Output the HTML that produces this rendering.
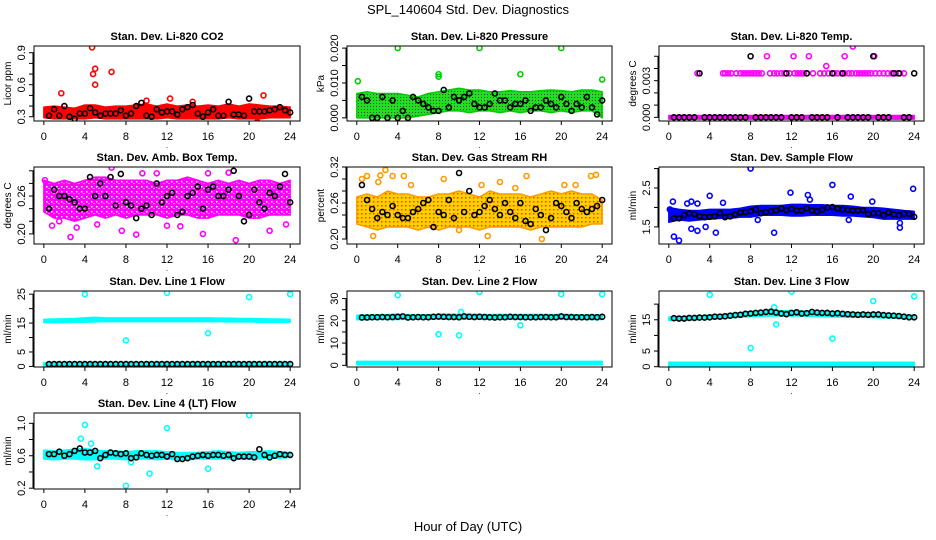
<!DOCTYPE html>
<html><head><meta charset="utf-8"><style>
html,body{margin:0;padding:0;background:#fff;}
svg{display:block;font-family:"Liberation Sans",Arial,sans-serif;}
</style></head><body>
<svg id="chart" width="936" height="540" viewBox="0 0 936 540" xmlns="http://www.w3.org/2000/svg">
<defs>
<pattern id="pGreen" width="3" height="3" patternUnits="userSpaceOnUse"><rect width="3" height="3" fill="#22dd22"/><rect x="1" y="1" width="1" height="1" fill="#115511"/></pattern>
<pattern id="pOrange" width="4" height="4" patternUnits="userSpaceOnUse"><rect width="4" height="4" fill="#ffd000"/><rect x="1" y="1" width="1.5" height="1.5" fill="#ee4400"/></pattern>
<pattern id="pPink" width="5" height="5" patternUnits="userSpaceOnUse"><rect width="5" height="5" fill="#ff00ff"/><rect x="1" y="1" width="1.5" height="1.5" fill="#ffffff"/><rect x="3.5" y="3" width="1" height="1" fill="#ffffff"/></pattern>
</defs>
<text x="468" y="14" font-size="13" text-anchor="middle">SPL_140604  Std. Dev. Diagnostics</text>
<text x="468" y="531" font-size="13" text-anchor="middle">Hour of Day (UTC)</text>
</svg>
<script>
const HX=[0.5,1,1.5,2,2.5,3,3.5,4,4.5,5,5.5,6,6.5,7,7.5,8,8.5,9,9.5,10,10.5,11,11.5,12,12.5,13,13.5,14,14.5,15,15.5,16,16.5,17,17.5,18,18.5,19,19.5,20,20.5,21,21.5,22,22.5,23,23.5,24];
const BH=[0,1,2,3,4,5,6,7,8,9,10,11,12,13,14,15,16,17,18,19,20,21,22,23,24];

// Panel 1 CO2
const co2Black=[0.31,0.37,0.31,0.40,0.30,0.28,0.33,0.33,0.38,0.34,0.31,0.33,0.33,0.33,0.36,0.31,0.33,0.40,0.43,0.31,0.30,0.37,0.34,0.35,0.35,0.32,0.37,0.39,0.41,0.33,0.30,0.34,0.37,0.31,0.31,0.44,0.32,0.32,0.31,0.47,0.35,0.35,0.35,0.36,0.37,0.39,0.36,0.34];
const co2Lo=[0.29,0.28,0.28,0.28,0.28,0.29,0.28,0.28,0.28,0.28,0.28,0.28,0.29,0.28,0.28,0.28,0.28,0.28,0.29,0.28,0.28,0.28,0.29,0.29,0.29];
const co2Hi=[0.39,0.40,0.39,0.38,0.41,0.41,0.39,0.40,0.40,0.41,0.42,0.40,0.42,0.40,0.41,0.40,0.41,0.40,0.42,0.40,0.42,0.41,0.40,0.40,0.39];
const co2OutX=[4.7,5.0,4.8,5.0,1.7,6.6,21.4,20.8,12.3,10.0,14.5];
const co2OutY=[0.95,0.75,0.70,0.60,0.52,0.72,0.50,0.25,0.47,0.45,0.44];
// Panel 2 pressure
const prBlack=[0.006,0.005,0.0,0.0,0.006,0.0,0.005,0.0,0.002,0.0,0.006,0.005,0.004,0.003,0.002,0.002,0.008,0.003,0.006,0.005,0.006,0.007,0.004,0.003,0.003,0.004,0.007,0.005,0.005,0.003,0.004,0.004,0.005,0.002,0.003,0.003,0.005,0.004,0.003,0.006,0.004,0.002,0.004,0.003,0.006,0.003,0.001,0.005];
const prLo=[0.0,0.0,0.0,0.0,0.0,0.0,0.0005,0.001,0.0015,0.002,0.002,0.0015,0.002,0.002,0.0015,0.002,0.0015,0.002,0.002,0.0015,0.002,0.0015,0.002,0.002,0.0];
const prHi=[0.007,0.0075,0.007,0.007,0.007,0.0065,0.006,0.007,0.0075,0.008,0.0085,0.008,0.008,0.0075,0.0075,0.0078,0.0075,0.0075,0.0078,0.008,0.0078,0.0075,0.008,0.008,0.0075];
const prOutX=[0.1,4.0,8.0,8.0,12.0,16.0,20.0,24.0];
const prOutY=[0.0105,0.0200,0.0125,0.0118,0.0200,0.0125,0.0200,0.0110];
// Panel 3 Li-820 temp
const ltBlack=[0,0,0,0,0,0.0036,0,0,0,0,0,0,0,0,0,0.005,0,0,0,0,0,0,0.0036,0,0,0,0.0036,0,0,0,0,0.0036,0,0.0036,0,0,0,0,0,0.005,0,0,0,0.0036,0.0036,0,0,0.0036];
const ltLo=[-0.00015,-0.00015,-0.00015,-0.00015,-0.00015,-0.00015,-0.00015,-0.00015,-0.00015,-0.00015,-0.00015,-0.00015,-0.00015,-0.00015,-0.00015,-0.00015,-0.00015,-0.00015,-0.00015,-0.00015,-0.00015,-0.00015,-0.00015,-0.00015,-0.00015];
const ltHi=[0.00015,0.00015,0.00015,0.00015,0.00015,0.00015,0.00015,0.00015,0.00015,0.00015,0.00015,0.00015,0.00015,0.00015,0.00015,0.00015,0.00015,0.00015,0.00015,0.00015,0.00015,0.00015,0.00015,0.00015,0.00015];
const ltOutX=[2.8,5.3,5.5,5.8,6.1,6.6,7,7.3,7.6,7.9,8.2,8.5,8.8,9.1,9.9,10.3,10.6,11,11.3,11.8,12.3,12.6,12.9,13.2,13.5,14.1,14.8,15.2,15.6,16.2,16.5,16.9,17.2,17.6,17.9,18.3,18.6,18.9,19.2,19.5,19.8,20.2,20.6,21,21.4,21.8,22.2,22.6,23,9.6,12.2,13.7,15.4,17.2,18,20.1];
const ltOutY=[0.0036,0.0036,0.0036,0.0036,0.0036,0.0036,0.0036,0.0036,0.0036,0.0036,0.0036,0.0036,0.0036,0.0036,0.0036,0.0036,0.0036,0.0036,0.0036,0.0036,0.0036,0.0036,0.0036,0.0036,0.0036,0.0036,0.0036,0.0036,0.0036,0.0036,0.0036,0.0036,0.0036,0.0036,0.0036,0.0036,0.0036,0.0036,0.0036,0.0036,0.0036,0.0036,0.0036,0.0036,0.0036,0.0036,0.0036,0.0036,0.0036,0.005,0.005,0.005,0.0042,0.005,0.0058,0.005];
// Panel 4 amb box temp
const abBlack=[0.24,0.27,0.26,0.26,0.255,0.25,0.24,0.24,0.29,0.26,0.28,0.26,0.29,0.245,0.295,0.25,0.245,0.225,0.24,0.245,0.23,0.28,0.25,0.26,0.265,0.23,0.235,0.26,0.265,0.275,0.24,0.27,0.275,0.26,0.26,0.27,0.30,0.26,0.22,0.23,0.27,0.25,0.24,0.265,0.26,0.275,0.295,0.25];
const abLo=[0.235,0.225,0.225,0.22,0.225,0.23,0.225,0.23,0.225,0.23,0.23,0.23,0.225,0.23,0.23,0.225,0.225,0.23,0.23,0.23,0.225,0.225,0.23,0.23,0.23];
const abHi=[0.285,0.28,0.285,0.28,0.285,0.29,0.29,0.285,0.285,0.285,0.285,0.28,0.285,0.285,0.29,0.285,0.28,0.285,0.28,0.285,0.28,0.285,0.285,0.28,0.285];
const abOutX=[2.6,9.0,7.6,15.5,18.7,22.0,0.8,6.6,18.0,16.0,11.0,9.6,12.0,23.6,0.1,1.5,3.2,5.2,13.3];
const abOutY=[0.195,0.199,0.205,0.20,0.19,0.205,0.213,0.305,0.297,0.296,0.296,0.296,0.213,0.215,0.285,0.22,0.21,0.215,0.212];
// Panel 5 RH
const rhBlack=[0.29,0.265,0.25,0.235,0.245,0.24,0.255,0.24,0.235,0.235,0.245,0.25,0.26,0.265,0.22,0.245,0.24,0.265,0.235,0.31,0.245,0.28,0.24,0.245,0.255,0.265,0.25,0.24,0.26,0.245,0.235,0.26,0.23,0.225,0.25,0.24,0.215,0.235,0.26,0.255,0.245,0.235,0.26,0.25,0.245,0.25,0.255,0.265];
const rhLo=[0.225,0.22,0.215,0.22,0.22,0.22,0.215,0.22,0.215,0.22,0.22,0.22,0.215,0.22,0.22,0.22,0.22,0.215,0.22,0.22,0.22,0.22,0.22,0.225,0.225];
const rhHi=[0.27,0.275,0.27,0.28,0.275,0.275,0.27,0.27,0.275,0.275,0.28,0.275,0.27,0.28,0.275,0.275,0.275,0.27,0.275,0.28,0.275,0.28,0.275,0.275,0.265];
const rhOutX=[0.5,1.0,2.1,2.3,2.8,3.5,4.6,5.3,8.5,12.2,14.0,15.5,16.6,20.3,21.4,22.9,23.4,18.1,12.8,1.6,10.0];
const rhOutY=[0.30,0.305,0.295,0.306,0.315,0.305,0.305,0.29,0.30,0.29,0.295,0.285,0.305,0.29,0.29,0.305,0.307,0.20,0.205,0.205,0.215];
// Panel 6 sample flow
const sfBlack=[1.72,1.72,1.8,1.85,1.83,1.77,1.75,1.76,1.77,1.85,1.75,1.77,1.82,1.87,1.88,1.9,1.95,1.85,1.88,1.9,1.92,1.97,1.93,1.96,1.92,1.92,1.98,1.92,1.90,1.94,2.0,2.01,1.97,1.95,1.94,1.92,1.92,1.93,1.83,1.85,1.85,1.80,1.87,1.82,1.80,1.84,1.84,1.76];
const sfLo=[1.62,1.68,1.65,1.68,1.7,1.72,1.72,1.75,1.75,1.8,1.8,1.8,1.78,1.78,1.8,1.8,1.8,1.78,1.78,1.76,1.74,1.7,1.7,1.7,1.7];
const sfHi=[2.0,1.95,1.92,1.92,1.95,1.95,1.95,1.98,2.03,2.05,2.05,2.05,2.08,2.08,2.07,2.07,2.05,2.05,2.03,2.0,2.0,1.98,1.95,1.92,1.9];
const sfOutX=[0.4,0.5,1.0,1.8,2.2,2.2,2.8,2.8,3.6,4.0,4.6,5.3,8.0,8.7,10.3,11.9,13.6,13.8,16.0,17.6,17.8,19.9,22.6,22.6,23.9,0.1];
const sfOutY=[2.15,1.25,1.15,2.1,2.15,1.45,2.1,1.4,1.5,2.3,1.35,2.12,3.0,1.68,1.35,2.38,2.32,2.2,2.58,1.68,2.28,2.15,1.6,1.48,2.48,1.95];
// Panel 7 line 1
const l1Black=[0.8,0.8,0.8,0.8,0.8,0.8,0.8,0.8,0.8,0.8,0.8,0.8,0.8,0.8,0.8,0.8,0.8,0.8,0.8,0.8,0.8,0.8,0.8,0.8,0.8,0.8,0.8,0.8,0.8,0.8,0.8,0.8,0.8,0.8,0.8,0.8,0.8,0.8,0.8,0.8,0.8,0.8,0.8,0.8,0.8,0.8,0.8,0.8];
const l1LoA=[15.2,15.1,15.2,15.3,15.3,15.4,15.5,15.5,15.5,15.5,15.5,15.5,15.5,15.5,15.5,15.5,15.5,15.5,15.4,15.4,15.4,15.3,15.3,15.3,15.3];
const l1HiA=[16.3,16.4,16.5,16.6,16.8,17.0,16.8,16.8,16.8,16.8,16.8,16.8,16.8,16.8,16.8,16.8,16.8,16.7,16.7,16.6,16.6,16.5,16.4,16.4,16.3];
const l1LoB=[0.2,0.2,0.2,0.2,0.2,0.2,0.2,0.2,0.2,0.2,0.2,0.2,0.2,0.2,0.2,0.2,0.2,0.2,0.2,0.2,0.2,0.2,0.2,0.2,0.2];
const l1HiB=[1.3,1.3,1.3,1.3,1.3,1.3,1.3,1.3,1.3,1.3,1.3,1.3,1.3,1.3,1.3,1.3,1.3,1.3,1.3,1.3,1.3,1.3,1.3,1.3,1.3];
const l1OutX=[4.0,12.0,20.0,24.0,8.0,16.0];
const l1OutY=[25.0,25.5,24.0,25.0,9.0,11.5];
// Panel 8 line 2
const l2Black=[21.5,21.5,21.6,21.6,21.7,21.6,21.7,21.8,22.0,21.5,21.6,21.7,21.6,21.6,21.8,21.9,21.8,21.7,21.7,21.6,22.0,21.8,21.7,21.8,21.7,21.6,21.5,21.6,21.6,21.8,21.7,21.7,21.6,21.6,21.6,21.7,21.7,21.6,21.6,22.0,21.7,21.7,21.6,21.6,21.6,21.7,21.6,21.8];
const l2LoA=[20.5,20.6,20.7,20.6,20.6,20.7,20.7,20.7,20.8,20.7,20.7,20.8,20.7,20.7,20.7,20.7,20.7,20.7,20.8,20.7,20.7,20.7,20.7,20.6,20.6];
const l2HiA=[22.5,22.6,22.7,22.8,23.0,22.8,22.7,22.8,22.9,23.0,22.9,23.0,22.9,22.8,22.9,22.8,22.8,22.9,22.8,22.8,22.9,22.8,22.7,22.7,22.6];
const l2LoB=[0.2,0.2,0.2,0.2,0.2,0.2,0.2,0.2,0.2,0.2,0.2,0.2,0.2,0.2,0.2,0.2,0.2,0.2,0.2,0.2,0.2,0.2,0.2,0.2,0.2];
const l2HiB=[1.8,1.8,1.8,1.8,1.8,1.8,1.8,1.8,1.8,1.8,1.8,1.8,1.8,1.8,1.8,1.8,1.8,1.8,1.8,1.8,1.8,1.8,1.8,1.8,1.8];
const l2OutX=[4.0,12.0,20.0,24.0,8.0,10.0,16.0,10.2];
const l2OutY=[31.5,33.0,32.0,32.0,14.0,13.5,18.0,24.0];
// Panel 9 line 3
const l3Black=[15.5,15.4,15.4,15.6,15.6,15.7,15.7,15.8,16.0,16.0,16.1,16.3,16.5,16.6,16.9,17.0,17.2,17.3,17.5,17.6,17.3,17.0,16.8,17.2,17.4,17.0,17.1,17.5,17.3,17.2,17.2,17.0,17.1,16.9,16.8,16.7,16.6,16.7,16.6,16.7,16.7,16.5,16.4,16.3,16.2,16.0,15.8,15.8];
const l3LoA=[14.8,14.9,15.0,15.1,15.2,15.4,15.6,15.8,16.0,16.1,16.2,16.2,16.2,16.2,16.1,16.0,15.9,15.9,15.8,15.8,15.7,15.6,15.5,15.4,15.3];
const l3HiA=[15.9,16.0,16.1,16.3,16.5,16.7,17.0,17.3,17.6,17.8,18.0,17.9,17.9,17.8,17.7,17.6,17.5,17.4,17.3,17.2,17.1,17.0,16.8,16.6,16.4];
const l3LoB=[0.3,0.3,0.3,0.3,0.3,0.3,0.3,0.3,0.3,0.3,0.3,0.3,0.3,0.3,0.3,0.3,0.3,0.3,0.3,0.3,0.3,0.3,0.3,0.3,0.3];
const l3HiB=[1.4,1.4,1.4,1.4,1.4,1.4,1.4,1.4,1.4,1.4,1.4,1.4,1.4,1.4,1.4,1.4,1.4,1.4,1.4,1.4,1.4,1.4,1.4,1.4,1.4];
const l3OutX=[4.0,12.0,20.0,24.0,8.0,16.0,10.3,10.5,10.0];
const l3OutY=[23.0,24.0,21.0,22.5,6.0,9.0,19.0,13.5,17.5];
// Panel 10 line 4
const l4Black=[0.62,0.62,0.65,0.60,0.62,0.66,0.69,0.64,0.64,0.66,0.57,0.61,0.64,0.63,0.62,0.63,0.57,0.58,0.63,0.61,0.60,0.61,0.61,0.59,0.62,0.56,0.56,0.57,0.59,0.60,0.61,0.60,0.61,0.61,0.60,0.61,0.57,0.59,0.59,0.59,0.58,0.68,0.61,0.58,0.60,0.62,0.61,0.61];
const l4Lo=[0.56,0.55,0.56,0.56,0.55,0.55,0.56,0.56,0.55,0.56,0.56,0.55,0.56,0.55,0.55,0.56,0.56,0.56,0.56,0.56,0.56,0.56,0.57,0.57,0.58];
const l4Hi=[0.67,0.66,0.67,0.68,0.69,0.67,0.66,0.66,0.65,0.66,0.66,0.66,0.65,0.64,0.64,0.64,0.65,0.66,0.65,0.64,0.65,0.65,0.66,0.65,0.64];
const l4OutX=[3.6,4.0,4.6,5.2,8.0,8.5,10.3,12.0,16.0,20.0];
const l4OutY=[0.81,0.98,0.75,0.47,0.23,0.52,0.38,0.94,0.44,1.10];

const xTicks=[0,4,8,12,16,20,24];
const svg=document.getElementById('chart');
const NS='http://www.w3.org/2000/svg';
function mk(tag,attrs,parent){const e=document.createElementNS(NS,tag);for(const k in attrs)e.setAttribute(k,attrs[k]);(parent||svg).appendChild(e);return e;}

const panels=[
 {id:'co2',title:'Stan. Dev. Li-820 CO2',ylab:'Licor ppm',L:34,R:300,T:46,B:121,ymin:0.26,ymax:0.963,ticks:[0.3,0.4,0.5,0.6,0.7,0.8,0.9],labels:[0.3,0.6,0.9],fmt:1,color:'#ff0000',fill:'#ff0000',bands:[[co2Lo,co2Hi]],ox:co2OutX,oy:co2OutY,black:co2Black},
 {id:'pressure',title:'Stan. Dev. Li-820 Pressure',ylab:'kPa',L:347,R:612,T:46,B:121,ymin:-0.0009,ymax:0.0206,ticks:[0,0.005,0.01,0.015,0.02],labels:[0,0.01,0.02],fmt:3,color:'#00cc00',fill:'url(#pGreen)',bands:[[prLo,prHi]],ox:prOutX,oy:prOutY,black:prBlack},
 {id:'li820-temp',title:'Stan. Dev. Li-820 Temp.',ylab:'degrees C',L:659,R:924,T:46,B:121,ymin:-0.0003,ymax:0.00584,ticks:[0,0.001,0.002,0.003,0.004,0.005],labels:[0,0.003],fmt:3,color:'#ff00ff',fill:'#ff00ff',bands:[[ltLo,ltHi]],ox:ltOutX,oy:ltOutY,black:ltBlack},
 {id:'amb-box-temp',title:'Stan. Dev. Amb. Box Temp.',ylab:'degrees C',L:34,R:300,T:167,B:244,ymin:0.184,ymax:0.306,ticks:[0.2,0.22,0.24,0.26,0.28,0.3],labels:[0.2,0.26],fmt:2,color:'#ff00ff',fill:'url(#pPink)',bands:[[abLo,abHi]],ox:abOutX,oy:abOutY,black:abBlack},
 {id:'gas-stream-rh',title:'Stan. Dev. Gas Stream RH',ylab:'percent',L:347,R:612,T:167,B:244,ymin:0.1917,ymax:0.32,ticks:[0.2,0.22,0.24,0.26,0.28,0.3,0.32],labels:[0.2,0.26,0.32],fmt:2,color:'#ff9900',fill:'url(#pOrange)',bands:[[rhLo,rhHi]],ox:rhOutX,oy:rhOutY,black:rhBlack},
 {id:'sample-flow',title:'Stan. Dev. Sample Flow',ylab:'ml/min',L:659,R:924,T:167,B:244,ymin:1.06,ymax:3.04,ticks:[1.5,2.0,2.5,3.0],labels:[1.5,2.5],fmt:1,color:'#0000ff',fill:'#0000ff',bands:[[sfLo,sfHi]],ox:sfOutX,oy:sfOutY,black:sfBlack},
 {id:'line1-flow',title:'Stan. Dev. Line 1 Flow',ylab:'ml/min',L:34,R:300,T:291,B:367,ymin:-0.2,ymax:26.1,ticks:[0,5,10,15,20,25],labels:[0,5,15,25],fmt:0,color:'#00ffff',fill:'#00ffff',bands:[[l1LoA,l1HiA],[l1LoB,l1HiB]],ox:l1OutX,oy:l1OutY,black:l1Black},
 {id:'line2-flow',title:'Stan. Dev. Line 2 Flow',ylab:'ml/min',L:347,R:612,T:291,B:367,ymin:-0.75,ymax:33.4,ticks:[0,5,10,15,20,25,30],labels:[0,10,20,30],fmt:0,color:'#00ffff',fill:'#00ffff',bands:[[l2LoA,l2HiA],[l2LoB,l2HiB]],ox:l2OutX,oy:l2OutY,black:l2Black},
 {id:'line3-flow',title:'Stan. Dev. Line 3 Flow',ylab:'ml/min',L:659,R:924,T:291,B:367,ymin:-0.1,ymax:24.2,ticks:[0,5,10,15,20],labels:[0,5,15],fmt:0,color:'#00ffff',fill:'#00ffff',bands:[[l3LoA,l3HiA],[l3LoB,l3HiB]],ox:l3OutX,oy:l3OutY,black:l3Black},
 {id:'line4-flow',title:'Stan. Dev. Line 4 (LT) Flow',ylab:'ml/min',L:34,R:300,T:413,B:489,ymin:0.19,ymax:1.127,ticks:[0.2,0.4,0.6,0.8,1.0],labels:[0.2,0.6,1.0],fmt:1,color:'#00ffff',fill:'#00ffff',bands:[[l4Lo,l4Hi]],ox:l4OutX,oy:l4OutY,black:l4Black}
];

panels.forEach(p=>{
  const g=mk('g',{});
  
  
  const xs=v=>p.L+(v+0.96)*(p.R-p.L)/25.92;
  const ys=v=>p.B-(v-p.ymin)*(p.B-p.T)/(p.ymax-p.ymin);
  const clip=mk('clipPath',{id:'clip-'+p.id},g);
  mk('rect',{x:p.L,y:p.T,width:p.R-p.L,height:p.B-p.T},clip);
  const plot=mk('g',{'clip-path':'url(#clip-'+p.id+')'},g);
  p.bands.forEach((b,bi)=>{
    let pts=BH.map((h,i)=>xs(h)+','+ys(b[1][i]));
    pts=pts.concat(BH.slice().reverse().map((h,j)=>xs(h)+','+ys(b[0][BH.length-1-j])));
    const poly=mk('polygon',{points:pts.join(' '),fill:p.fill,stroke:p.color,'stroke-width':1.5,'stroke-linejoin':'round'},plot);
    
    
  });
  p.ox.forEach((x,i)=>{
    const c=mk('circle',{cx:xs(x),cy:ys(p.oy[i]),r:2.5,fill:'none',stroke:p.color,'stroke-width':1.6},plot);
    
    
  });
  HX.forEach((x,i)=>{
    const c=mk('circle',{cx:xs(x),cy:ys(p.black[i]),r:2.5,fill:'none',stroke:'#000','stroke-width':1.6},plot);
    
    
  });
  const box=mk('rect',{x:p.L,y:p.T,width:p.R-p.L,height:p.B-p.T,fill:'none',stroke:'#000','stroke-width':1},g);
  
  
  const t=mk('text',{x:(p.L+p.R)/2,y:p.T-6,'font-size':11,'font-weight':'bold','text-anchor':'middle'},g);
  t.textContent=p.title;
  
  
  xTicks.forEach(v=>{
    mk('line',{x1:xs(v),x2:xs(v),y1:p.B,y2:p.B+4,stroke:'#000'},g);
    const tl=mk('text',{x:xs(v),y:p.B+19,'font-size':11,'text-anchor':'middle'},g);
    tl.textContent=v;
    
    
  });
  mk('text',{x:(p.L+p.R)/2,y:p.B+27,'font-size':8,'text-anchor':'middle'},g).textContent='.';
  mk('line',{x1:p.L-1,x2:p.L-1,y1:ys(p.ticks[0]),y2:ys(p.ticks[p.ticks.length-1]),stroke:'#000'},g);
  p.ticks.forEach(v=>{mk('line',{x1:p.L-5,x2:p.L,y1:ys(v),y2:ys(v),stroke:'#000'},g);});
  p.labels.forEach(v=>{
    const yy=ys(v),xx=p.L-9;
    const tl=mk('text',{x:xx,y:yy,'font-size':11,'text-anchor':'middle',transform:'rotate(-90 '+xx+' '+yy+')'},g);
    tl.textContent=v.toFixed(p.fmt);
    
    
  });
  const yx=p.L-23,yy=(p.T+p.B)/2;
  const yl=mk('text',{x:yx,y:yy,'font-size':10,'text-anchor':'middle',transform:'rotate(-90 '+yx+' '+yy+')'},g);
  yl.textContent=p.ylab;
  
  
});
</script>
</body></html>
